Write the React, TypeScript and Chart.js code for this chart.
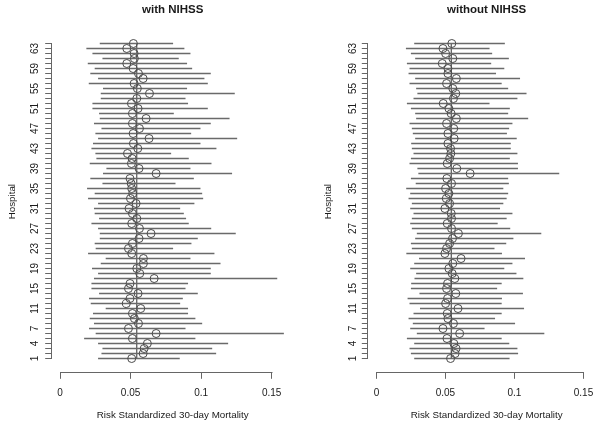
import React, { useEffect, useRef } from 'react';
import { Chart, registerables } from 'chart.js';

Chart.register(...registerables);

// ---------- data ----------
const hospitals = [
  1, 2, 3, 4, 5, 6, 7, 8, 9, 10, 11, 12, 13, 14, 15, 16,
  17, 18, 19, 20, 21, 22, 23, 24, 25, 26, 27, 28, 29, 30, 31, 32,
  33, 34, 35, 36, 37, 38, 39, 40, 41, 42, 43, 44, 45, 46, 47, 48,
  49, 50, 51, 52, 53, 54, 55, 56, 57, 58, 59, 60, 61, 62, 63, 64,
];
const yTickLabels = [1, 4, 7, 11, 15, 19, 23, 27, 31, 35, 39, 43, 47, 51, 55, 59, 63];
const xTickValues = [0, 0.05, 0.1, 0.15];
const xTickLabels = ['0', '0.05', '0.1', '0.15'];

const panelTitles = ['with NIHSS', 'without NIHSS'];
const xAxisTitle = 'Risk Standardized 30-day Mortality';
const yAxisTitle = 'Hospital';

// with NIHSS
const withPoint = [
  0.0508, 0.0589, 0.0596, 0.0619, 0.0513, 0.0681, 0.0485, 0.0556,
  0.0527, 0.0513, 0.0572, 0.0470, 0.0496, 0.0553, 0.0485, 0.0496,
  0.0667, 0.0565, 0.0544, 0.0591, 0.0591, 0.0508, 0.0485, 0.0513,
  0.0560, 0.0645, 0.0563, 0.0508, 0.0544, 0.0513, 0.0489, 0.0539,
  0.0499, 0.0515, 0.0508, 0.0504, 0.0496, 0.0681, 0.0560, 0.0506,
  0.0511, 0.0478, 0.0551, 0.0520, 0.0631, 0.0518, 0.0563, 0.0513,
  0.0610, 0.0513, 0.0553, 0.0506, 0.0544, 0.0634, 0.0548, 0.0525,
  0.0589, 0.0556, 0.0518, 0.0473, 0.0527, 0.0525, 0.0473, 0.0520,
];
const withLower = [
  0.0272, 0.0296, 0.0303, 0.0272, 0.0173, 0.0255, 0.0208, 0.0243,
  0.0213, 0.0236, 0.0326, 0.0220, 0.0208, 0.0279, 0.0225, 0.0225,
  0.0243, 0.0272, 0.0229, 0.0291, 0.0326, 0.0201, 0.0255, 0.0248,
  0.0284, 0.0284, 0.0272, 0.0225, 0.0279, 0.0248, 0.0243, 0.0272,
  0.0201, 0.0248, 0.0194, 0.0303, 0.0217, 0.0307, 0.0331, 0.0213,
  0.0260, 0.0253, 0.0225, 0.0236, 0.0272, 0.0253, 0.0296, 0.0243,
  0.0284, 0.0279, 0.0232, 0.0232, 0.0291, 0.0291, 0.0307, 0.0206,
  0.0272, 0.0217, 0.0248, 0.0199, 0.0303, 0.0232, 0.0189, 0.0284,
];
const withUpper = [
  0.0846, 0.1104, 0.1076, 0.1189, 0.0957, 0.1584, 0.0887, 0.1005,
  0.0957, 0.0905, 0.0905, 0.0849, 0.0868, 0.0974, 0.0887, 0.0905,
  0.1537, 0.1066, 0.1066, 0.1135, 0.0922, 0.1092, 0.0799, 0.0929,
  0.0974, 0.1243, 0.1069, 0.0910, 0.0891, 0.0875, 0.0849, 0.0950,
  0.1012, 0.1005, 0.0993, 0.0816, 0.0946, 0.1217, 0.0922, 0.1071,
  0.0910, 0.0785, 0.1106, 0.0993, 0.1253, 0.0927, 0.0993, 0.1066,
  0.1199, 0.0804, 0.1045, 0.0905, 0.0887, 0.1236, 0.0898, 0.1045,
  0.1021, 0.1066, 0.0934, 0.0898, 0.0839, 0.0922, 0.0879, 0.0799,
];
const withOverall = 0.0544;

// without NIHSS
const withoutPoint = [
  0.0537, 0.0570, 0.0577, 0.0561, 0.0511, 0.0603, 0.0482, 0.0558,
  0.0518, 0.0513, 0.0591, 0.0501, 0.0515, 0.0575, 0.0508, 0.0515,
  0.0568, 0.0549, 0.0525, 0.0553, 0.0613, 0.0496, 0.0508, 0.0530,
  0.0551, 0.0594, 0.0544, 0.0513, 0.0544, 0.0542, 0.0496, 0.0530,
  0.0506, 0.0525, 0.0501, 0.0544, 0.0510, 0.0679, 0.0582, 0.0513,
  0.0530, 0.0539, 0.0537, 0.0518, 0.0563, 0.0518, 0.0560, 0.0508,
  0.0579, 0.0541, 0.0525, 0.0484, 0.0558, 0.0575, 0.0553, 0.0508,
  0.0579, 0.0518, 0.0518, 0.0477, 0.0553, 0.0501, 0.0482, 0.0546,
];
const withoutLower = [
  0.0276, 0.0252, 0.0242, 0.0276, 0.0223, 0.0295, 0.0247, 0.0266,
  0.0235, 0.0271, 0.0318, 0.0242, 0.0228, 0.0314, 0.0252, 0.0254,
  0.0278, 0.0290, 0.0247, 0.0276, 0.0311, 0.0219, 0.0259, 0.0252,
  0.0283, 0.0295, 0.0259, 0.0247, 0.0259, 0.0271, 0.0247, 0.0259,
  0.0235, 0.0247, 0.0218, 0.0287, 0.0252, 0.0306, 0.0299, 0.0242,
  0.0252, 0.0271, 0.0259, 0.0254, 0.0283, 0.0266, 0.0259, 0.0242,
  0.0290, 0.0283, 0.0252, 0.0223, 0.0271, 0.0299, 0.0290, 0.0242,
  0.0283, 0.0235, 0.0242, 0.0223, 0.0283, 0.0252, 0.0216, 0.0276,
];
const withoutUpper = [
  0.0962, 0.1024, 0.1019, 0.0960, 0.0905, 0.1214, 0.0781, 0.1002,
  0.0857, 0.0905, 0.1067, 0.0905, 0.0907, 0.1059, 0.0872, 0.0905,
  0.1062, 0.1012, 0.0924, 0.0983, 0.1074, 0.0907, 0.0853, 0.0938,
  0.0990, 0.1192, 0.0967, 0.0876, 0.0941, 0.0983, 0.0893, 0.0917,
  0.0941, 0.0952, 0.0917, 0.0957, 0.0952, 0.1322, 0.1023, 0.1023,
  0.0964, 0.1019, 0.0971, 0.0971, 0.1014, 0.0943, 0.0959, 0.0983,
  0.1097, 0.0952, 0.0964, 0.0817, 0.1019, 0.1085, 0.0952, 0.0905,
  0.1038, 0.0864, 0.0924, 0.0829, 0.0957, 0.0836, 0.0817, 0.0928,
];
const withoutOverall = 0.0542;

// ---------- chart ----------
const FONT = '"Liberation Sans", Arial, Helvetica, sans-serif';
const CI_COLOR = '#6a6a6a';
const POINT_COLOR = '#4a4a4a';
const REF_COLOR = '#333';
const AXIS_COLOR = '#666';
const TEXT_COLOR = '#1a1a1a';

type PanelProps = {
  title: string;
  point: number[];
  lower: number[];
  upper: number[];
  overall: number;
  canvasWidth: number;
  axisWidth: number;
  padRight: number;
  yTitlePad: number;
  yTickPad: number;
  left: number;
};

const axisLinesPlugin = {
  id: 'axisLines',
  afterDraw(chart: any) {
    const { ctx, chartArea } = chart;
    const xs = chart.scales.x;
    const ys = chart.scales.y;
    ctx.save();
    ctx.strokeStyle = AXIS_COLOR;
    ctx.lineWidth = 1;
    // x axis line from first to last tick
    const yb = Math.round(chartArea.bottom) + 0.5;
    const x0 = Math.round(xs.getPixelForValue(xTickValues[0])) + 0.5;
    const x1 = Math.round(xs.getPixelForValue(xTickValues[xTickValues.length - 1])) + 0.5;
    ctx.beginPath();
    ctx.moveTo(x0, yb);
    ctx.lineTo(x1, yb);
    ctx.stroke();
    // y axis line from first to last hospital
    const xl = Math.round(chartArea.left) - 0.5;
    const y0 = ys.getPixelForValue(hospitals[0]);
    const y1 = ys.getPixelForValue(hospitals[hospitals.length - 1]);
    ctx.beginPath();
    ctx.moveTo(xl, y0 + 0.5);
    ctx.lineTo(xl, y1 - 0.5);
    ctx.stroke();
    ctx.restore();
  },
};

function Panel(p: PanelProps) {
  const ref = useRef<HTMLCanvasElement | null>(null);
  useEffect(() => {
    if (!ref.current) return;
    const chart = new Chart(ref.current, {
      type: 'scatter',
      data: {
        datasets: [
          {
            type: 'scatter',
            data: hospitals.map((h, i) => ({ x: p.point[i], y: h })),
            pointRadius: 4,
            pointHoverRadius: 4,
            pointBorderWidth: 1,
            pointBorderColor: POINT_COLOR,
            pointBackgroundColor: 'rgba(0,0,0,0)',
            order: 0,
          } as any,
          {
            type: 'bar',
            indexAxis: 'y',
            data: hospitals.map((h, i) => ({ x: [p.lower[i], p.upper[i]], y: h })),
            backgroundColor: CI_COLOR,
            borderWidth: 0,
            barThickness: 1,
            order: 1,
          } as any,
          {
            type: 'line',
            data: [
              { x: p.overall, y: hospitals[0] },
              { x: p.overall, y: hospitals[hospitals.length - 1] },
            ],
            borderColor: REF_COLOR,
            borderWidth: 1,
            pointRadius: 0,
            showLine: true,
            fill: false,
            order: 2,
          } as any,
        ],
      },
      options: {
        responsive: false,
        animation: false,
        devicePixelRatio: 1,
        events: [],
        layout: { padding: { left: 0, right: p.padRight, top: 0, bottom: 0 } },
        plugins: {
          legend: { display: false },
          tooltip: { enabled: false },
          title: {
            display: true,
            text: p.title,
            fullSize: false,
            color: TEXT_COLOR,
            font: { family: FONT, size: 11.5, weight: 'bold' },
            padding: { top: 3, bottom: 14.2 },
          },
        },
        scales: {
          x: {
            type: 'linear',
            min: -0.0059,
            max: 0.1656,
            bounds: 'data',
            offset: false,
            afterBuildTicks: (s: any) => {
              s.ticks = xTickValues.map((v) => ({ value: v }));
            },
            afterFit: (s: any) => {
              s.height = 53.7;
            },
            border: { display: false },
            grid: {
              display: true,
              drawOnChartArea: false,
              drawTicks: true,
              tickLength: 6.5,
              color: AXIS_COLOR,
              lineWidth: 1,
              offset: false,
            },
            ticks: {
              autoSkip: false,
              minRotation: 0,
              maxRotation: 0,
              padding: 8.2,
              color: TEXT_COLOR,
              font: { family: FONT, size: 10 },
              callback: (v: any) => {
                const i = xTickValues.indexOf(v);
                return i >= 0 ? xTickLabels[i] : '';
              },
            },
            title: {
              display: true,
              text: xAxisTitle,
              color: TEXT_COLOR,
              font: { family: FONT, size: 9.8 },
              padding: { top: 0, bottom: 4.4 },
            },
          },
          y: {
            type: 'linear',
            min: -1.76,
            max: 66.5,
            bounds: 'data',
            offset: false,
            afterBuildTicks: (s: any) => {
              s.ticks = hospitals.map((v) => ({ value: v }));
            },
            afterFit: (s: any) => {
              s.width = p.axisWidth;
            },
            border: { display: false },
            grid: {
              display: true,
              drawOnChartArea: false,
              drawTicks: true,
              tickLength: 6.5,
              color: AXIS_COLOR,
              lineWidth: 1,
              offset: false,
            },
            ticks: {
              autoSkip: false,
              minRotation: 90,
              maxRotation: 90,
              crossAlign: 'center',
              padding: p.yTickPad,
              color: TEXT_COLOR,
              font: { family: FONT, size: 10 },
              callback: (v: any) => (yTickLabels.includes(v) ? String(v) : ''),
            },
            title: {
              display: true,
              text: yAxisTitle,
              color: TEXT_COLOR,
              font: { family: FONT, size: 9.8 },
              padding: { top: p.yTitlePad, bottom: 0 },
            },
          },
        },
      } as any,
      plugins: [axisLinesPlugin],
    });
    return () => chart.destroy();
  }, []);
  return (
    <canvas
      ref={ref}
      width={p.canvasWidth}
      height={426}
      style={{ position: 'absolute', left: p.left, top: 0, display: 'block' }}
    />
  );
}

export default function App() {
  return (
    <div
      style={{
        position: 'fixed',
        left: 0,
        top: 0,
        width: 600,
        height: 426,
        overflow: 'hidden',
        background: '#fff',
      }}
    >
      <Panel
        title={panelTitles[0]}
        point={withPoint}
        lower={withLower}
        upper={withUpper}
        overall={withOverall}
        canvasWidth={300}
        axisWidth={51.7}
        padRight={6.3}
        yTitlePad={6.1}
        yTickPad={4.3}
        left={0}
      />
      <Panel
        title={panelTitles[1]}
        point={withoutPoint}
        lower={withoutLower}
        upper={withoutUpper}
        overall={withoutOverall}
        canvasWidth={310}
        axisWidth={68.3}
        padRight={0}
        yTitlePad={22.4}
        yTickPad={3.2}
        left={300}
      />
    </div>
  );
}
